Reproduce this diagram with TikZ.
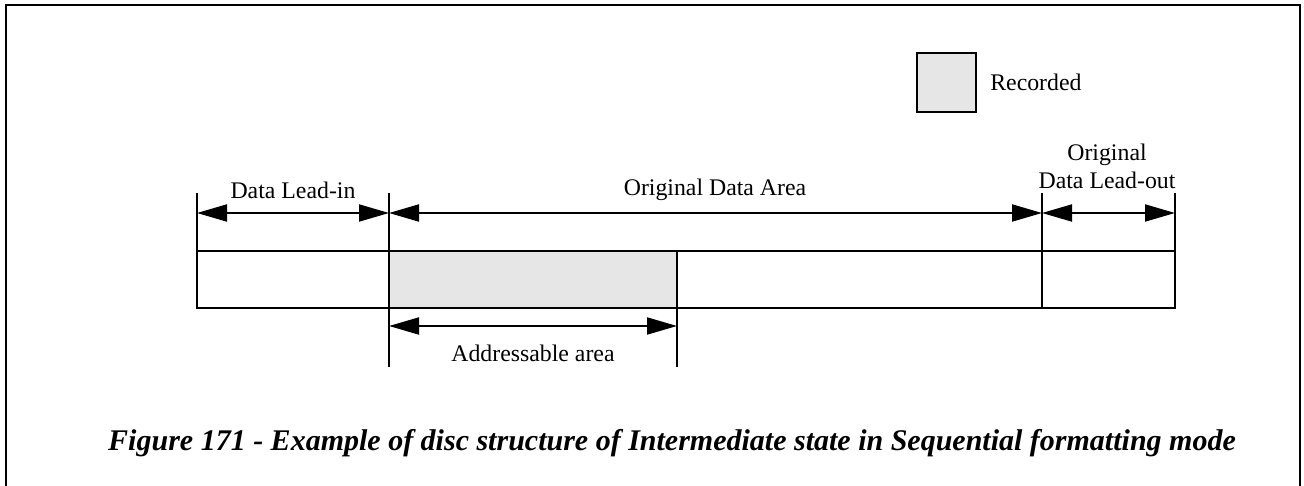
\documentclass[tikz,border=0pt]{standalone}
\usepackage{fontspec}
\setmainfont{Liberation Serif}
\usetikzlibrary{arrows.meta,positioning,calc}
\definecolor{RecGray}{HTML}{E6E6E6}
\tikzset{
  cell/.style={draw=black,fill=white,line width=1pt,minimum height=28.5pt,inner sep=0pt,outer sep=0pt},
  reccell/.style={cell,fill=RecGray},
  legendbox/.style={draw=black,fill=RecGray,line width=.9pt,minimum width=29.5pt,minimum height=29.5pt,inner sep=0pt},
  label/.style={font=\fontsize{11.9}{14}\selectfont,align=center,inner sep=0pt},
  dim/.style={{Triangle[length=15pt,width=8.5pt]}-{Triangle[length=15pt,width=8.5pt]},line width=1pt},
  extline/.style={draw=black,line width=1pt}
}
\begin{document}
\begin{tikzpicture}[x=0.5pt,y=-0.5pt]
  \useasboundingbox (0,0) rectangle (1304,486);
  \clip (0,0) rectangle (1304,486);
  % outer frame, open at the bottom
  \draw[line width=1pt] (6,500) -- (6,5) -- (1300,5) -- (1300,500);
  % legend
  \node[legendbox] (legend) at (946.5,82.5) {};
  \node[label,right=6.5pt of legend] (legendtxt) {Recorded};
  % disc strip
  \node[cell,minimum width=96pt] (leadin) at (293,279.5) {};
  \node[reccell,minimum width=144pt] (recorded) at (533,279.5) {};
  \node[cell,minimum width=182.5pt] (dataarea) at (859.5,279.5) {};
  \node[cell,minimum width=66.5pt] (leadout) at (1108.5,279.5) {};
  % extension lines
  \coordinate (top0) at (197,193);
  \coordinate (top1) at (389,193);
  \coordinate (top2) at (1042,193);
  \coordinate (top3) at (1175,193);
  \coordinate (bot1) at (389,367);
  \coordinate (bot2) at (677,367);
  \draw[extline] (leadin.north west) -- (top0);
  \draw[extline] (recorded.north west) -- (top1);
  \draw[extline] (leadout.north west) -- (top2);
  \draw[extline] (leadout.north east) -- (top3);
  \draw[extline] (recorded.south west) -- (bot1);
  \draw[extline] (recorded.south east) -- (bot2);
  % dimension arrows
  \draw[dim] (197,213) coordinate (a0) -- (389,213) coordinate (a1);
  \draw[dim] (a1) -- (1042,213) coordinate (a2);
  \draw[dim] (a2) -- (1175,213) coordinate (a3);
  \draw[dim] (389,326) coordinate (b1) -- (677,326) coordinate (b2);
  % labels
  \node[label] (leadinlbl) at (293,190) {Data Lead-in};
  \node[label] (datalbl) at (715,190) {Original Data Area};
  \node[label] (leadoutlbl) at (1107,166) {Original\\Data Lead-out};
  \node[label] (addrlbl) at (533,353) {Addressable area};
  % caption
  \node[font=\fontsize{15}{18}\selectfont\bfseries\itshape,inner sep=0pt] (caption) at (672,443)
    {Figure 171 - Example of disc structure of Intermediate state in Sequential formatting mode};
\end{tikzpicture}
\end{document}
